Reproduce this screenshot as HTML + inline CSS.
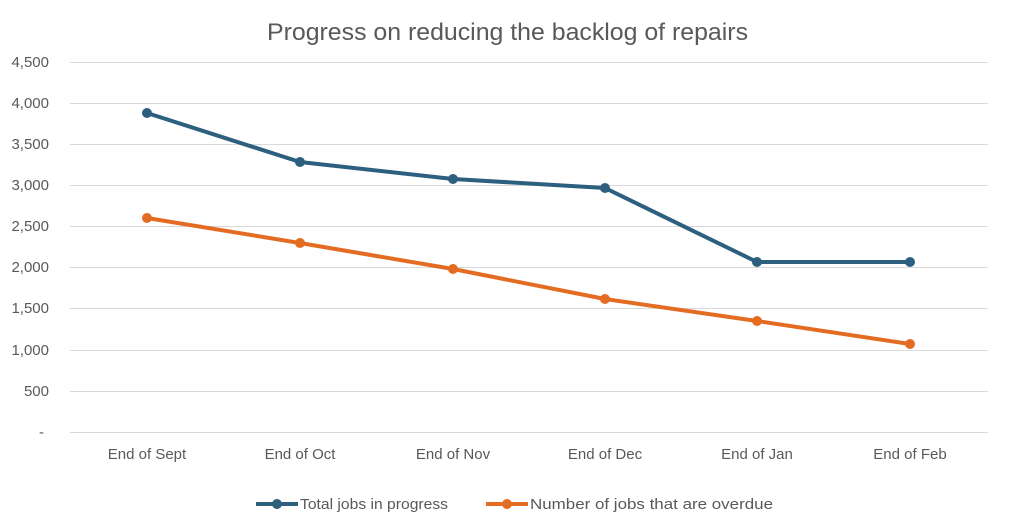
<!DOCTYPE html>
<html><head><meta charset="utf-8"><style>
body{margin:0;background:#fff;}
svg{display:block;font-family:"Liberation Sans",sans-serif;}
</style></head><body>
<svg width="1011" height="530" viewBox="0 0 1011 530">
<rect width="1011" height="530" fill="#fff"/>
<text x="267" y="40" font-size="24" fill="#595959" textLength="481" lengthAdjust="spacingAndGlyphs">Progress on reducing the backlog of repairs</text>
<g stroke="#d9d9d9" stroke-width="1">
<line x1="70" x2="988" y1="62.5" y2="62.5"/>
<line x1="70" x2="988" y1="103.5" y2="103.5"/>
<line x1="70" x2="988" y1="144.5" y2="144.5"/>
<line x1="70" x2="988" y1="185.5" y2="185.5"/>
<line x1="70" x2="988" y1="226.5" y2="226.5"/>
<line x1="70" x2="988" y1="267.5" y2="267.5"/>
<line x1="70" x2="988" y1="308.5" y2="308.5"/>
<line x1="70" x2="988" y1="350.5" y2="350.5"/>
<line x1="70" x2="988" y1="391.5" y2="391.5"/>
<line x1="70" x2="988" y1="432.5" y2="432.5"/>
</g>
<g font-size="15" fill="#595959" text-anchor="end">
<text x="49" y="67">4,500</text>
<text x="49" y="108">4,000</text>
<text x="49" y="149">3,500</text>
<text x="49" y="190">3,000</text>
<text x="49" y="231">2,500</text>
<text x="49" y="272">2,000</text>
<text x="49" y="313">1,500</text>
<text x="49" y="355">1,000</text>
<text x="49" y="396">500</text>
<text x="44" y="437">-</text>
</g>
<g font-size="15" fill="#595959" text-anchor="middle">
<text x="147" y="459">End of Sept</text>
<text x="300" y="459">End of Oct</text>
<text x="453" y="459">End of Nov</text>
<text x="605" y="459">End of Dec</text>
<text x="757" y="459">End of Jan</text>
<text x="910" y="459">End of Feb</text>
</g>
<polyline points="147,113 300,162 453,179 605,188 757,262 910,262" fill="none" stroke="#2d5f7f" stroke-width="4" stroke-linejoin="round"/>
<g fill="#2d5f7f"><circle cx="147" cy="113" r="5"/><circle cx="300" cy="162" r="5"/><circle cx="453" cy="179" r="5"/><circle cx="605" cy="188" r="5"/><circle cx="757" cy="262" r="5"/><circle cx="910" cy="262" r="5"/></g>
<polyline points="147,218 300,243 453,269 605,299 757,321 910,344" fill="none" stroke="#e46c22" stroke-width="4" stroke-linejoin="round"/>
<g fill="#e46c22"><circle cx="147" cy="218" r="5"/><circle cx="300" cy="243" r="5"/><circle cx="453" cy="269" r="5"/><circle cx="605" cy="299" r="5"/><circle cx="757" cy="321" r="5"/><circle cx="910" cy="344" r="5"/></g>
<line x1="256" x2="298" y1="504" y2="504" stroke="#2d5f7f" stroke-width="4"/>
<circle cx="277" cy="504" r="5" fill="#2d5f7f"/>
<text x="300" y="509" font-size="15" fill="#595959" textLength="148" lengthAdjust="spacingAndGlyphs">Total jobs in progress</text>
<line x1="486" x2="528" y1="504" y2="504" stroke="#e46c22" stroke-width="4"/>
<circle cx="507" cy="504" r="5" fill="#e46c22"/>
<text x="530" y="509" font-size="15" fill="#595959" textLength="243" lengthAdjust="spacingAndGlyphs">Number of jobs that are overdue</text>
</svg>
</body></html>
